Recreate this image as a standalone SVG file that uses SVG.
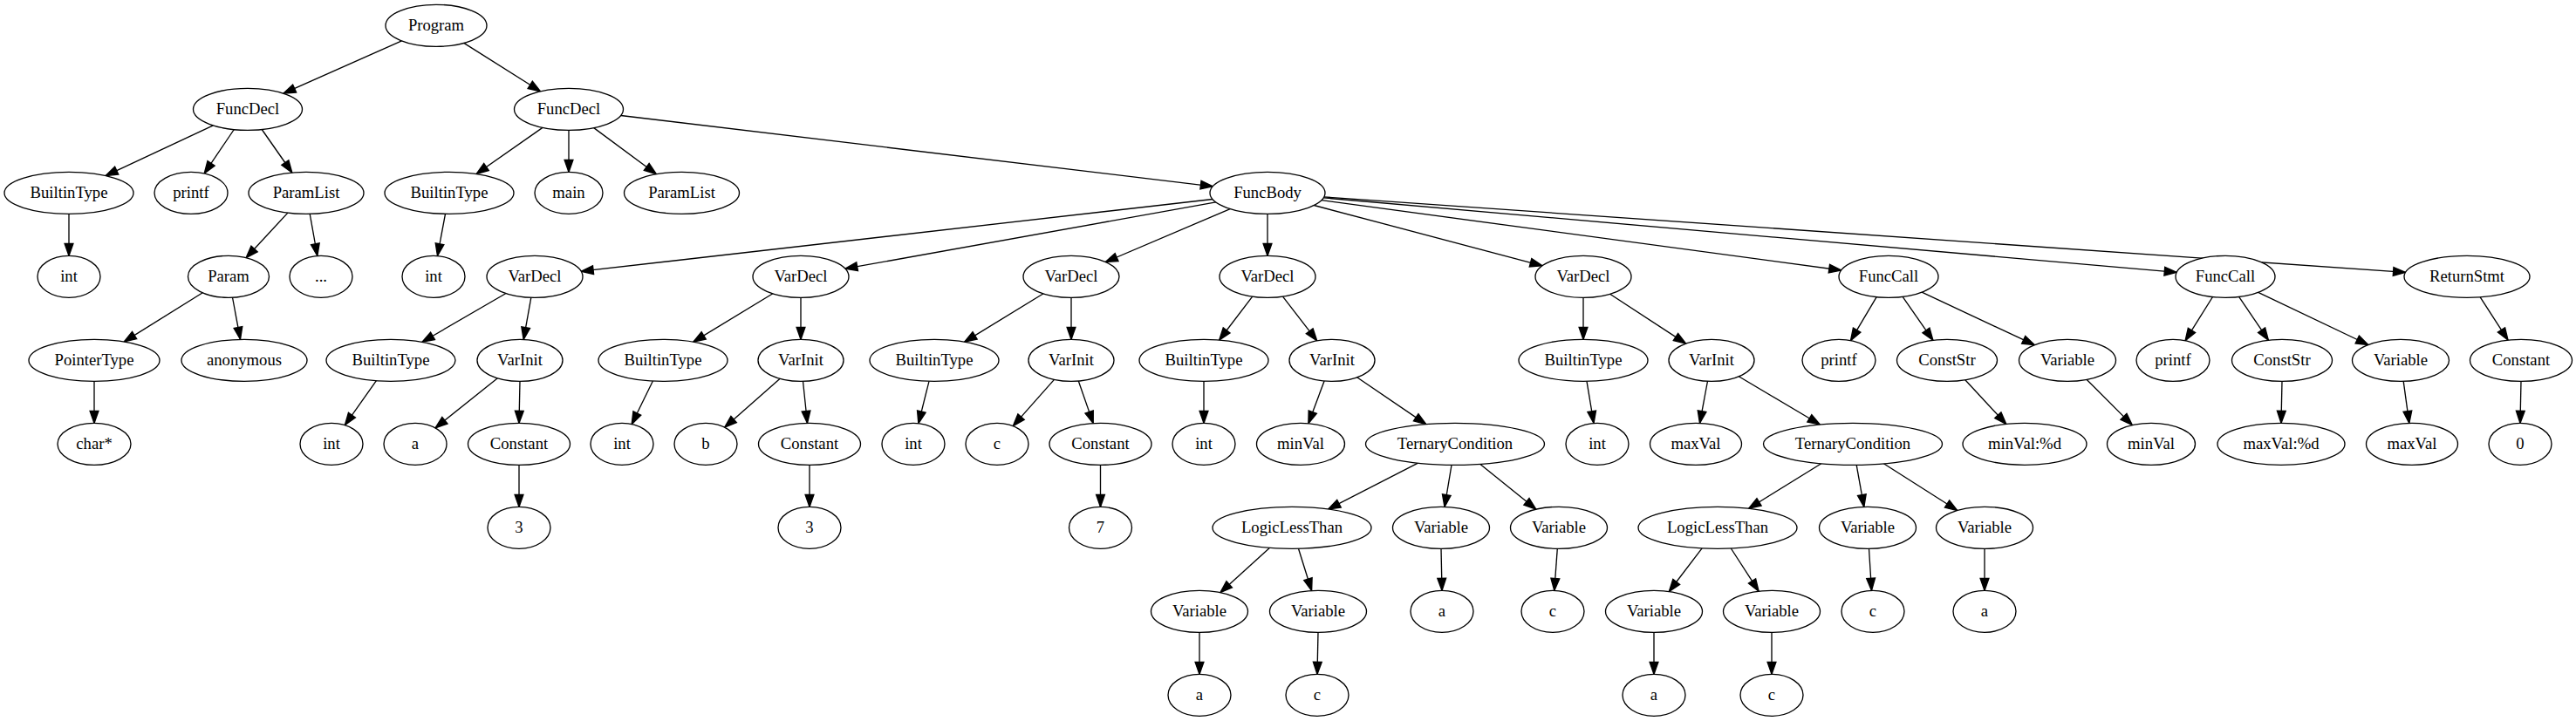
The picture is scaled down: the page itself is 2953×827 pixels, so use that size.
<svg xmlns="http://www.w3.org/2000/svg" width="2953" height="827" viewBox="0 0 2953 827">
<style>
.node ellipse{fill:#fff;stroke:#000;stroke-width:1.33}
.node text{font-family:"Liberation Serif","Times New Roman",serif;font-size:18.67px;text-anchor:middle;fill:#000}
.edges path{fill:none;stroke:#000;stroke-width:1.33;marker-end:url(#ah)}
</style>
<defs>
<marker id="ah" markerUnits="userSpaceOnUse" markerWidth="16" markerHeight="12" viewBox="-1 -1 15.33 11.33" refX="13.33" refY="4.67" orient="auto" overflow="visible">
<path d="M0,0 L13.33,4.67 L0,9.33 z" fill="#000" stroke="#000" stroke-width="1.33"/>
</marker>
</defs>
<rect width="2953" height="827" fill="#fff"/>
<g id="connectors" class="edges">
<path d="M460.5,46.9 L324.9,107.2"/>
<path d="M531.8,49.4 L619.5,104.8"/>
<path d="M244.4,143.9 L121.1,201.6"/>
<path d="M268.3,148.5 L234.2,198.9"/>
<path d="M300.2,148.5 L334.8,198"/>
<path d="M79,245.33 L79,293.33"/>
<path d="M329.9,244.1 L282.1,295.7"/>
<path d="M355.2,245.3 L363.8,293.5"/>
<path d="M232.3,335.8 L142.3,391.9"/>
<path d="M266.5,341.2 L275.5,389.3"/>
<path d="M108,437.33 L108,485.33"/>
<path d="M622,146.4 L546.1,199.5"/>
<path d="M652,149.33 L652,197.33"/>
<path d="M680.7,146.6 L752.4,199.7"/>
<path d="M711.7,132.5 L1390.3,213.8"/>
<path d="M510.5,245.3 L501.5,293.5"/>
<path d="M1390,228.5 L666.2,311.2"/>
<path d="M1393.8,231.9 L968.9,308.2"/>
<path d="M1410.2,239.6 L1267.3,300.5"/>
<path d="M1453,245.33 L1453,293.33"/>
<path d="M1506.3,235.5 L1768,304.8"/>
<path d="M1514.9,229.7 L2110.7,310"/>
<path d="M1517.2,226.9 L2495.2,312.4"/>
<path d="M1517.8,225.9 L2757.5,312.4"/>
<path d="M580,336.5 L484,392.3"/>
<path d="M608.8,341.3 L600.2,389.4"/>
<path d="M431.4,436.7 L395.4,487.6"/>
<path d="M570.4,433.8 L499,490.9"/>
<path d="M596,437.33 L595,485.33"/>
<path d="M595,533.33 L595,581.33"/>
<path d="M885.9,336.8 L794.8,392.1"/>
<path d="M918,341.33 L918,389.33"/>
<path d="M748.4,437 L724.2,486.5"/>
<path d="M894.2,434.3 L830.7,490.2"/>
<path d="M920.5,437.3 L925.5,485.3"/>
<path d="M928,533.33 L928,581.33"/>
<path d="M1196.1,336.8 L1105.7,392.1"/>
<path d="M1228,341.33 L1228,389.33"/>
<path d="M1065,437.3 L1052.9,485.6"/>
<path d="M1208.5,435.4 L1161.3,488.6"/>
<path d="M1236.3,437 L1253.2,485.6"/>
<path d="M1261.5,533.33 L1261.5,581.33"/>
<path d="M1435.7,340.1 L1397.7,390"/>
<path d="M1470.5,340.1 L1509.7,390.8"/>
<path d="M1380,437.33 L1380,485.33"/>
<path d="M1518.1,436.9 L1499.9,485.7"/>
<path d="M1555.6,432.8 L1634.7,486.6"/>
<path d="M1625.5,531.2 L1522.6,584"/>
<path d="M1664,533.3 L1656,581.4"/>
<path d="M1696.6,532.3 L1760.8,584.1"/>
<path d="M1455.6,628.3 L1398.9,679.7"/>
<path d="M1488.5,629.2 L1503.6,677.5"/>
<path d="M1375,725.33 L1375,773.33"/>
<path d="M1511,725.33 L1510,773.33"/>
<path d="M1652,629.33 L1653,677.33"/>
<path d="M1785.3,629.3 L1781.8,677.4"/>
<path d="M1815,341.33 L1815,389.33"/>
<path d="M1845.6,337.3 L1932.6,394.1"/>
<path d="M1819,437.3 L1827,485.5"/>
<path d="M1957.5,437.2 L1948.5,485.4"/>
<path d="M1993.2,431.8 L2086.3,487"/>
<path d="M2087.8,531.8 L2004.7,583.2"/>
<path d="M2128.2,533.3 L2136.8,581.4"/>
<path d="M2159.4,531.8 L2243.8,585.5"/>
<path d="M1951.1,628.9 L1913.3,678.5"/>
<path d="M1984.3,629 L2016.1,678.2"/>
<path d="M1896,725.33 L1896,773.33"/>
<path d="M2031,725.33 L2031,773.33"/>
<path d="M2142.5,629.3 L2145.5,677.3"/>
<path d="M2275,629.33 L2275,677.33"/>
<path d="M2151.2,340.6 L2121.5,390.6"/>
<path d="M2181.1,340.3 L2215.9,390.3"/>
<path d="M2203.1,335.2 L2332.3,395.7"/>
<path d="M2252.8,435.7 L2299.8,486.4"/>
<path d="M2392,435.3 L2444.3,487.6"/>
<path d="M2536.5,340.5 L2505.1,390.7"/>
<path d="M2566.6,340.4 L2600.4,390.2"/>
<path d="M2588.7,335.3 L2714.8,395.5"/>
<path d="M2616,437.33 L2615,485.33"/>
<path d="M2755.2,437.3 L2761.8,485.4"/>
<path d="M2843.2,340.8 L2875,390.1"/>
<path d="M2890,437.33 L2889,485.33"/>
</g>
<g id="n0" class="node"><ellipse cx="500" cy="29.33" rx="58" ry="24"/><text x="500" y="35.33">Program</text></g>
<g id="n1" class="node"><ellipse cx="284" cy="125.33" rx="62.5" ry="24"/><text x="284" y="131.33">FuncDecl</text></g>
<g id="n2" class="node"><ellipse cx="652" cy="125.33" rx="62.5" ry="24"/><text x="652" y="131.33">FuncDecl</text></g>
<g id="n3" class="node"><ellipse cx="79" cy="221.33" rx="74" ry="24"/><text x="79" y="227.33">BuiltinType</text></g>
<g id="n4" class="node"><ellipse cx="219" cy="221.33" rx="42" ry="24"/><text x="219" y="227.33">printf</text></g>
<g id="n5" class="node"><ellipse cx="351" cy="221.33" rx="66" ry="24"/><text x="351" y="227.33">ParamList</text></g>
<g id="n6" class="node"><ellipse cx="515" cy="221.33" rx="74" ry="24"/><text x="515" y="227.33">BuiltinType</text></g>
<g id="n7" class="node"><ellipse cx="652" cy="221.33" rx="39" ry="24"/><text x="652" y="227.33">main</text></g>
<g id="n8" class="node"><ellipse cx="781.5" cy="221.33" rx="66" ry="24"/><text x="781.5" y="227.33">ParamList</text></g>
<g id="n9" class="node"><ellipse cx="1453" cy="221.33" rx="66" ry="24"/><text x="1453" y="227.33">FuncBody</text></g>
<g id="n10" class="node"><ellipse cx="79" cy="317.33" rx="36" ry="24"/><text x="79" y="323.33">int</text></g>
<g id="n11" class="node"><ellipse cx="262" cy="317.33" rx="46.5" ry="24"/><text x="262" y="323.33">Param</text></g>
<g id="n12" class="node"><ellipse cx="368" cy="317.33" rx="36" ry="24"/><text x="368" y="323.33">...</text></g>
<g id="n13" class="node"><ellipse cx="497" cy="317.33" rx="36" ry="24"/><text x="497" y="323.33">int</text></g>
<g id="n14" class="node"><ellipse cx="613" cy="317.33" rx="55" ry="24"/><text x="613" y="323.33">VarDecl</text></g>
<g id="n15" class="node"><ellipse cx="918" cy="317.33" rx="55" ry="24"/><text x="918" y="323.33">VarDecl</text></g>
<g id="n16" class="node"><ellipse cx="1228" cy="317.33" rx="55" ry="24"/><text x="1228" y="323.33">VarDecl</text></g>
<g id="n17" class="node"><ellipse cx="1453" cy="317.33" rx="55" ry="24"/><text x="1453" y="323.33">VarDecl</text></g>
<g id="n18" class="node"><ellipse cx="1815" cy="317.33" rx="55" ry="24"/><text x="1815" y="323.33">VarDecl</text></g>
<g id="n19" class="node"><ellipse cx="2165" cy="317.33" rx="57" ry="24"/><text x="2165" y="323.33">FuncCall</text></g>
<g id="n20" class="node"><ellipse cx="2551" cy="317.33" rx="57" ry="24"/><text x="2551" y="323.33">FuncCall</text></g>
<g id="n21" class="node"><ellipse cx="2828" cy="317.33" rx="72" ry="24"/><text x="2828" y="323.33">ReturnStmt</text></g>
<g id="n22" class="node"><ellipse cx="108" cy="413.33" rx="75" ry="24"/><text x="108" y="419.33">PointerType</text></g>
<g id="n23" class="node"><ellipse cx="280" cy="413.33" rx="72" ry="24"/><text x="280" y="419.33">anonymous</text></g>
<g id="n24" class="node"><ellipse cx="448" cy="413.33" rx="74" ry="24"/><text x="448" y="419.33">BuiltinType</text></g>
<g id="n25" class="node"><ellipse cx="596" cy="413.33" rx="49" ry="24"/><text x="596" y="419.33">VarInit</text></g>
<g id="n26" class="node"><ellipse cx="760" cy="413.33" rx="74" ry="24"/><text x="760" y="419.33">BuiltinType</text></g>
<g id="n27" class="node"><ellipse cx="918" cy="413.33" rx="49" ry="24"/><text x="918" y="419.33">VarInit</text></g>
<g id="n28" class="node"><ellipse cx="1071" cy="413.33" rx="74" ry="24"/><text x="1071" y="419.33">BuiltinType</text></g>
<g id="n29" class="node"><ellipse cx="1228" cy="413.33" rx="49" ry="24"/><text x="1228" y="419.33">VarInit</text></g>
<g id="n30" class="node"><ellipse cx="1380" cy="413.33" rx="74" ry="24"/><text x="1380" y="419.33">BuiltinType</text></g>
<g id="n31" class="node"><ellipse cx="1527" cy="413.33" rx="49" ry="24"/><text x="1527" y="419.33">VarInit</text></g>
<g id="n32" class="node"><ellipse cx="1815" cy="413.33" rx="74" ry="24"/><text x="1815" y="419.33">BuiltinType</text></g>
<g id="n33" class="node"><ellipse cx="1962" cy="413.33" rx="49" ry="24"/><text x="1962" y="419.33">VarInit</text></g>
<g id="n34" class="node"><ellipse cx="2108" cy="413.33" rx="42" ry="24"/><text x="2108" y="419.33">printf</text></g>
<g id="n35" class="node"><ellipse cx="2232" cy="413.33" rx="57.5" ry="24"/><text x="2232" y="419.33">ConstStr</text></g>
<g id="n36" class="node"><ellipse cx="2370" cy="413.33" rx="55.5" ry="24"/><text x="2370" y="419.33">Variable</text></g>
<g id="n37" class="node"><ellipse cx="2491" cy="413.33" rx="42" ry="24"/><text x="2491" y="419.33">printf</text></g>
<g id="n38" class="node"><ellipse cx="2616" cy="413.33" rx="57.5" ry="24"/><text x="2616" y="419.33">ConstStr</text></g>
<g id="n39" class="node"><ellipse cx="2752" cy="413.33" rx="55.5" ry="24"/><text x="2752" y="419.33">Variable</text></g>
<g id="n40" class="node"><ellipse cx="2890" cy="413.33" rx="58.5" ry="24"/><text x="2890" y="419.33">Constant</text></g>
<g id="n41" class="node"><ellipse cx="108" cy="509.33" rx="42" ry="24"/><text x="108" y="515.33">char*</text></g>
<g id="n42" class="node"><ellipse cx="380" cy="509.33" rx="36" ry="24"/><text x="380" y="515.33">int</text></g>
<g id="n43" class="node"><ellipse cx="476" cy="509.33" rx="36" ry="24"/><text x="476" y="515.33">a</text></g>
<g id="n44" class="node"><ellipse cx="595" cy="509.33" rx="58.5" ry="24"/><text x="595" y="515.33">Constant</text></g>
<g id="n45" class="node"><ellipse cx="713" cy="509.33" rx="36" ry="24"/><text x="713" y="515.33">int</text></g>
<g id="n46" class="node"><ellipse cx="809" cy="509.33" rx="36" ry="24"/><text x="809" y="515.33">b</text></g>
<g id="n47" class="node"><ellipse cx="928" cy="509.33" rx="58.5" ry="24"/><text x="928" y="515.33">Constant</text></g>
<g id="n48" class="node"><ellipse cx="1047" cy="509.33" rx="36" ry="24"/><text x="1047" y="515.33">int</text></g>
<g id="n49" class="node"><ellipse cx="1143" cy="509.33" rx="36" ry="24"/><text x="1143" y="515.33">c</text></g>
<g id="n50" class="node"><ellipse cx="1261.5" cy="509.33" rx="58.5" ry="24"/><text x="1261.5" y="515.33">Constant</text></g>
<g id="n51" class="node"><ellipse cx="1380" cy="509.33" rx="36" ry="24"/><text x="1380" y="515.33">int</text></g>
<g id="n52" class="node"><ellipse cx="1491" cy="509.33" rx="50.5" ry="24"/><text x="1491" y="515.33">minVal</text></g>
<g id="n53" class="node"><ellipse cx="1668" cy="509.33" rx="102.5" ry="24"/><text x="1668" y="515.33">TernaryCondition</text></g>
<g id="n54" class="node"><ellipse cx="1831" cy="509.33" rx="36" ry="24"/><text x="1831" y="515.33">int</text></g>
<g id="n55" class="node"><ellipse cx="1944" cy="509.33" rx="52.5" ry="24"/><text x="1944" y="515.33">maxVal</text></g>
<g id="n56" class="node"><ellipse cx="2124" cy="509.33" rx="102.5" ry="24"/><text x="2124" y="515.33">TernaryCondition</text></g>
<g id="n57" class="node"><ellipse cx="2321" cy="509.33" rx="71" ry="24"/><text x="2321" y="515.33">minVal:%d</text></g>
<g id="n58" class="node"><ellipse cx="2466" cy="509.33" rx="50.5" ry="24"/><text x="2466" y="515.33">minVal</text></g>
<g id="n59" class="node"><ellipse cx="2615" cy="509.33" rx="73" ry="24"/><text x="2615" y="515.33">maxVal:%d</text></g>
<g id="n60" class="node"><ellipse cx="2765" cy="509.33" rx="52.5" ry="24"/><text x="2765" y="515.33">maxVal</text></g>
<g id="n61" class="node"><ellipse cx="2889" cy="509.33" rx="36" ry="24"/><text x="2889" y="515.33">0</text></g>
<g id="n62" class="node"><ellipse cx="595" cy="605.33" rx="36" ry="24"/><text x="595" y="611.33">3</text></g>
<g id="n63" class="node"><ellipse cx="928" cy="605.33" rx="36" ry="24"/><text x="928" y="611.33">3</text></g>
<g id="n64" class="node"><ellipse cx="1261.5" cy="605.33" rx="36" ry="24"/><text x="1261.5" y="611.33">7</text></g>
<g id="n65" class="node"><ellipse cx="1481" cy="605.33" rx="91" ry="24"/><text x="1481" y="611.33">LogicLessThan</text></g>
<g id="n66" class="node"><ellipse cx="1652" cy="605.33" rx="55.5" ry="24"/><text x="1652" y="611.33">Variable</text></g>
<g id="n67" class="node"><ellipse cx="1787" cy="605.33" rx="55.5" ry="24"/><text x="1787" y="611.33">Variable</text></g>
<g id="n68" class="node"><ellipse cx="1969" cy="605.33" rx="91" ry="24"/><text x="1969" y="611.33">LogicLessThan</text></g>
<g id="n69" class="node"><ellipse cx="2141" cy="605.33" rx="55.5" ry="24"/><text x="2141" y="611.33">Variable</text></g>
<g id="n70" class="node"><ellipse cx="2275" cy="605.33" rx="55.5" ry="24"/><text x="2275" y="611.33">Variable</text></g>
<g id="n71" class="node"><ellipse cx="1375" cy="701.33" rx="55.5" ry="24"/><text x="1375" y="707.33">Variable</text></g>
<g id="n72" class="node"><ellipse cx="1511" cy="701.33" rx="55.5" ry="24"/><text x="1511" y="707.33">Variable</text></g>
<g id="n73" class="node"><ellipse cx="1653" cy="701.33" rx="36" ry="24"/><text x="1653" y="707.33">a</text></g>
<g id="n74" class="node"><ellipse cx="1780" cy="701.33" rx="36" ry="24"/><text x="1780" y="707.33">c</text></g>
<g id="n75" class="node"><ellipse cx="1896" cy="701.33" rx="55.5" ry="24"/><text x="1896" y="707.33">Variable</text></g>
<g id="n76" class="node"><ellipse cx="2031" cy="701.33" rx="55.5" ry="24"/><text x="2031" y="707.33">Variable</text></g>
<g id="n77" class="node"><ellipse cx="2147" cy="701.33" rx="36" ry="24"/><text x="2147" y="707.33">c</text></g>
<g id="n78" class="node"><ellipse cx="2275" cy="701.33" rx="36" ry="24"/><text x="2275" y="707.33">a</text></g>
<g id="n79" class="node"><ellipse cx="1375" cy="797.33" rx="36" ry="24"/><text x="1375" y="803.33">a</text></g>
<g id="n80" class="node"><ellipse cx="1510" cy="797.33" rx="36" ry="24"/><text x="1510" y="803.33">c</text></g>
<g id="n81" class="node"><ellipse cx="1896" cy="797.33" rx="36" ry="24"/><text x="1896" y="803.33">a</text></g>
<g id="n82" class="node"><ellipse cx="2031" cy="797.33" rx="36" ry="24"/><text x="2031" y="803.33">c</text></g>
</svg>
